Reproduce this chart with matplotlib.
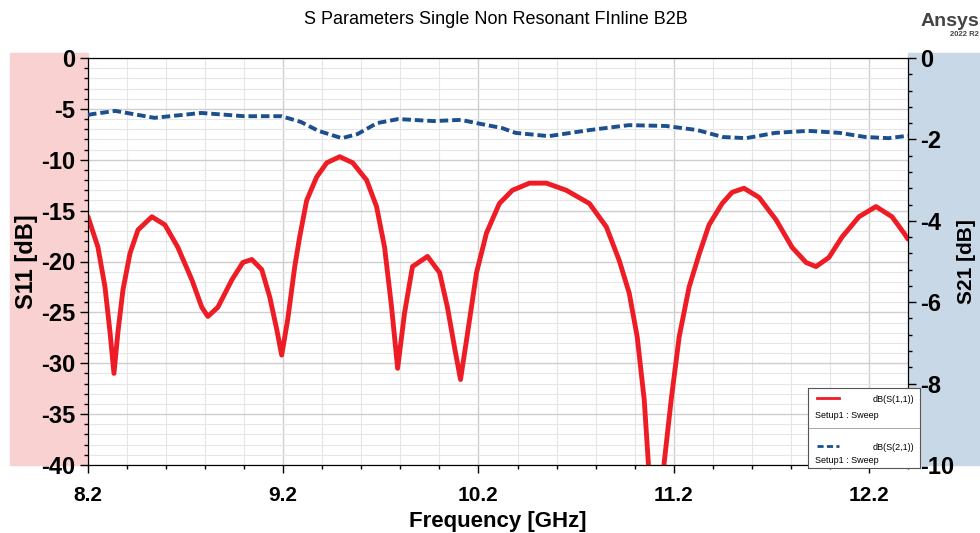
import matplotlib
matplotlib.use('Agg')
import matplotlib.pyplot as plt
from matplotlib.patches import Rectangle
from matplotlib.ticker import MultipleLocator

plt.rcParams['font.family'] = ['Liberation Sans', 'DejaVu Sans']
plt.rcParams['axes.unicode_minus'] = False

# S11 (left axis)
s11_freq = [8.200, 8.251, 8.287, 8.313, 8.333, 8.353, 8.379, 8.415, 8.456, 8.527,
            8.594, 8.660, 8.732, 8.783, 8.814, 8.865, 8.937, 8.993, 9.039, 9.090,
            9.131, 9.167, 9.192, 9.223, 9.259, 9.284, 9.320, 9.371, 9.423, 9.489,
            9.556, 9.627, 9.678, 9.719, 9.755, 9.786, 9.821, 9.862, 9.939, 10.001,
            10.041, 10.077, 10.108, 10.139, 10.190, 10.241, 10.307, 10.374, 10.461, 10.548,
            10.650, 10.768, 10.855, 10.921, 10.972, 11.013, 11.049, 11.070, 11.110, 11.151,
            11.187, 11.228, 11.279, 11.330, 11.381, 11.448, 11.499, 11.560, 11.637, 11.724,
            11.806, 11.878, 11.929, 11.995, 12.062, 12.149, 12.236, 12.318, 12.379, 12.400]
s11_db = [-15.6, -18.6, -22.5, -27.0, -31.0, -27.0, -22.8, -19.2, -16.9, -15.6,
          -16.4, -18.6, -21.8, -24.5, -25.4, -24.5, -21.8, -20.1, -19.8, -20.8,
          -23.5, -26.7, -29.2, -25.7, -20.5, -17.6, -14.0, -11.7, -10.3, -9.7,
          -10.3, -12.0, -14.6, -18.6, -24.5, -30.5, -25.1, -20.5, -19.5, -21.1,
          -24.5, -28.4, -31.6, -27.7, -21.1, -17.2, -14.3, -13.0, -12.3, -12.3,
          -13.0, -14.3, -16.6, -19.9, -23.1, -27.4, -33.6, -39.8, -55.0, -39.8,
          -33.6, -27.4, -22.5, -19.3, -16.4, -14.3, -13.2, -12.8, -13.7, -15.9,
          -18.6, -20.1, -20.5, -19.6, -17.6, -15.6, -14.6, -15.6, -17.2, -17.8]

# S21 (right axis)
s21_freq = [8.20, 8.22, 8.34, 8.54, 8.78, 9.00, 9.19, 9.29, 9.38, 9.50,
            9.58, 9.68, 9.79, 9.97, 10.11, 10.19, 10.32, 10.39, 10.56, 10.77,
            10.97, 11.16, 11.32, 11.45, 11.57, 11.72, 11.89, 12.05, 12.18, 12.30,
            12.40]
s21_db = [-1.40, -1.38, -1.30, -1.47, -1.35, -1.43, -1.43, -1.57, -1.79, -1.97,
          -1.87, -1.60, -1.50, -1.55, -1.52, -1.60, -1.72, -1.84, -1.92, -1.77,
          -1.65, -1.67, -1.77, -1.94, -1.97, -1.84, -1.79, -1.84, -1.94, -1.97,
          -1.91]

x_major = [8.2, 9.2, 10.2, 11.2, 12.2]

fig = plt.figure(figsize=(9.8, 5.33), dpi=100)
W, H = 980, 533
ax_l, ax_r, ax_t, ax_b = 88, 908, 58, 465
ax = fig.add_axes([ax_l / W, 1 - ax_b / H, (ax_r - ax_l) / W, (ax_b - ax_t) / H])

# coloured side panels behind the axes
fig.patches.append(Rectangle((10 / W, 1 - ax_b / H), (ax_l - 10) / W, (ax_b - 53) / H,
                             transform=fig.transFigure, color='#f9d1d1', zorder=-1))
fig.patches.append(Rectangle((ax_r / W, 1 - ax_b / H), (W - ax_r) / W, (ax_b - 53) / H,
                             transform=fig.transFigure, color='#c9d8e7', zorder=-1))

ax.set_xlim(8.2, 12.4)
ax.set_ylim(-40, 0)
ax.set_xticks(x_major)
ax.xaxis.set_minor_locator(MultipleLocator(0.2))
ax.yaxis.set_major_locator(MultipleLocator(5))
ax.yaxis.set_minor_locator(MultipleLocator(1))
ax.grid(which='minor', color='#e6e6e6', lw=0.8)
ax.grid(which='major', color='#cfcfcf', lw=1.0)
ax.set_axisbelow(True)

ax.plot(s11_freq, s11_db, color='#ee1c25', lw=3.5, zorder=3, solid_capstyle='round')

ax.tick_params(which='major', direction='out', length=6, width=1)
ax.tick_params(which='minor', direction='out', length=3, width=1)
ax.tick_params(axis='y', labelsize=17, pad=3)
ax.tick_params(axis='x', labelsize=15, pad=9)
for lab in ax.get_xticklabels() + ax.get_yticklabels():
    lab.set_fontweight('bold')
ax.set_ylabel('S11 [dB]', fontsize=17, fontweight='bold')
ax.yaxis.set_label_coords((38 - ax_l) / (ax_r - ax_l), 0.5)
ax.set_xlabel('Frequency [GHz]', fontsize=16, fontweight='bold')
ax.xaxis.set_label_coords(0.5, -(521 - ax_b) / (ax_b - ax_t))
ax.xaxis.label.set_va('center')

ax2 = ax.twinx()
ax2.set_ylim(-10, 0)
ax2.yaxis.set_major_locator(MultipleLocator(2))
ax2.yaxis.set_minor_locator(MultipleLocator(0.4))
ax2.tick_params(which='major', direction='out', length=6, width=1, labelsize=17, pad=3)
ax2.tick_params(which='minor', direction='out', length=3, width=1)
for lab in ax2.get_yticklabels():
    lab.set_fontweight('bold')
ax2.plot(s21_freq, s21_db, color='#1c4f8e', lw=2.8, ls=(0, (2.2, 1.0)), zorder=3)
ax2.set_ylabel('S21 [dB]', fontsize=15, fontweight='bold', rotation=90)
ax2.yaxis.set_label_coords((957 - ax_l) / (ax_r - ax_l), 0.5)

fig.text(496 / W, 1 - 20 / H, 'S Parameters Single Non Resonant FInline B2B',
         ha='center', va='center', fontsize=13)
fig.text(979 / W, 1 - 21 / H, 'Ansys', ha='right', va='center', fontsize=14,
         fontweight='bold', color='#444444')
fig.text(979 / W, 1 - 35 / H, '2022 R2', ha='right', va='center', fontsize=5.5,
         fontweight='bold', color='#444444')

# legend box
leg = fig.add_axes([808 / W, 1 - 468 / H, 112 / W, 80 / H])
leg.set_xlim(0, 1)
leg.set_ylim(0, 1)
leg.set_xticks([])
leg.set_yticks([])
leg.set_facecolor('white')
for sp in leg.spines.values():
    sp.set_color('#555555')
    sp.set_linewidth(0.8)
leg.plot([0.08, 0.28], [0.87, 0.87], color='#ee1c25', lw=2)
leg.text(0.95, 0.86, 'dB(S(1,1))', ha='right', va='center', fontsize=6.5)
leg.text(0.06, 0.66, 'Setup1 : Sweep', ha='left', va='center', fontsize=6.5)
leg.axhline(0.5, color='#999999', lw=0.6)
leg.plot([0.08, 0.28], [0.27, 0.27], color='#1c4f8e', lw=2, ls=(0, (2.2, 1.2)))
leg.text(0.95, 0.26, 'dB(S(2,1))', ha='right', va='center', fontsize=6.5)
leg.text(0.06, 0.09, 'Setup1 : Sweep', ha='left', va='center', fontsize=6.5)

fig.savefig('out.png', dpi=100)
